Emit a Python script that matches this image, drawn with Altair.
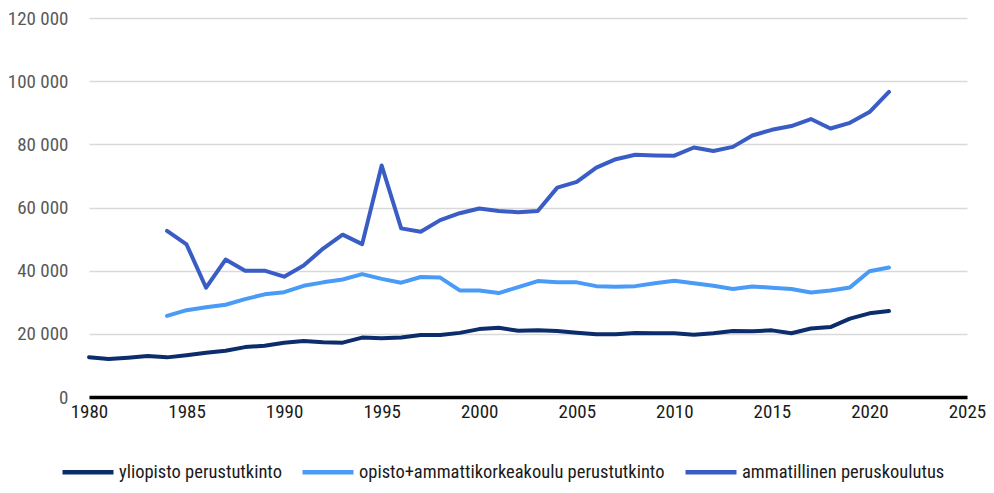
import altair as alt
import pandas as pd

FONT = "Roboto Condensed"

series_names = [
    "yliopisto perustutkinto",
    "opisto+ammattikorkeakoulu perustutkinto",
    "ammatillinen peruskoulutus",
]
series_colors = ["#0c2d6b", "#4a9bf8", "#3a5cc5"]

years_yliopisto = list(range(1980, 2022))
yliopisto = [12600, 12000, 12450, 12950, 12550, 13250, 14000, 14650, 15800, 16250,
             17200, 17700, 17300, 17200, 18800, 18600, 18850, 19600, 19600, 20300,
             21500, 21900, 21000, 21100, 20900, 20350, 19850, 19850, 20300, 20150,
             20150, 19700, 20150, 20900, 20800, 21100, 20200, 21700, 22150, 24800,
             26500, 27200]

years_opisto = list(range(1984, 2022))
opisto = [25700, 27500, 28400, 29200, 31000, 32500, 33200, 35200, 36300, 37200,
          38900, 37400, 36200, 38000, 37800, 33750, 33750, 32900, 34800, 36700,
          36300, 36300, 35100, 34900, 35100, 36000, 36800, 36000, 35200, 34200,
          35000, 34600, 34200, 33100, 33750, 34700, 39800, 41000]

years_ammatillinen = list(range(1984, 2022))
ammatillinen = [52600, 48300, 34600, 43500, 40000, 40000, 38100, 41600, 47000, 51400,
                48400, 73300, 53400, 52300, 56000, 58200, 59700, 58900, 58500, 58900,
                66300, 68100, 72600, 75300, 76700, 76500, 76400, 79000, 77900, 79200,
                82800, 84600, 85800, 88000, 85000, 86800, 90200, 96600]

x_ticks = [1980, 1985, 1990, 1995, 2000, 2005, 2010, 2015, 2020, 2025]
y_ticks = [0, 20000, 40000, 60000, 80000, 100000, 120000]

rows = []
for name, ys, vs in [
    (series_names[0], years_yliopisto, yliopisto),
    (series_names[1], years_opisto, opisto),
    (series_names[2], years_ammatillinen, ammatillinen),
]:
    for y, v in zip(ys, vs):
        rows.append({"vuosi": y, "arvo": v, "sarja": name})
df = pd.DataFrame(rows)

chart = (
    alt.Chart(df)
    .mark_line(strokeWidth=4, strokeJoin="round", strokeCap="round")
    .encode(
        x=alt.X(
            "vuosi:Q",
            scale=alt.Scale(domain=[1980, 2025], nice=False, zero=False),
            axis=alt.Axis(
                values=x_ticks, format="d", title=None, grid=False, ticks=False,
                labelFlush=False,
                domainColor="#000000", domainWidth=3.5, labelPadding=5,
                labelColor="#1a1a1a", labelFontSize=19, labelFont=FONT,
            ),
        ),
        y=alt.Y(
            "arvo:Q",
            scale=alt.Scale(domain=[0, 120000], nice=False),
            axis=alt.Axis(
                values=y_ticks, title=None, domain=False, ticks=False,
                labelExpr="replace(format(datum.value, ','), ',', ' ')",
                gridColor="#d9d9d9", gridWidth=1.5, labelPadding=21,
                labelColor="#595959", labelFontSize=19, labelFont=FONT,
            ),
        ),
        color=alt.Color(
            "sarja:N",
            scale=alt.Scale(domain=series_names, range=series_colors),
            sort=series_names,
            legend=alt.Legend(
                title=None, orient="none", direction="horizontal",
                legendX=-29, legendY=426,
                symbolType="stroke", symbolSize=2600, symbolStrokeWidth=4.5,
                labelFontSize=18.5, labelFont=FONT, labelColor="#1a1a1a",
                labelOffset=3, columnPadding=11, labelLimit=500,
            ),
        ),
        order="vuosi:Q",
    )
    .properties(
        width=878, height=379,
        autosize=alt.AutoSizeParams(type="none"),
        padding={"left": 81, "top": 10, "right": 19, "bottom": 86},
    )
    .configure_view(stroke=None)
)

chart.save("out.html", embed_options={"renderer": "svg", "actions": False})
